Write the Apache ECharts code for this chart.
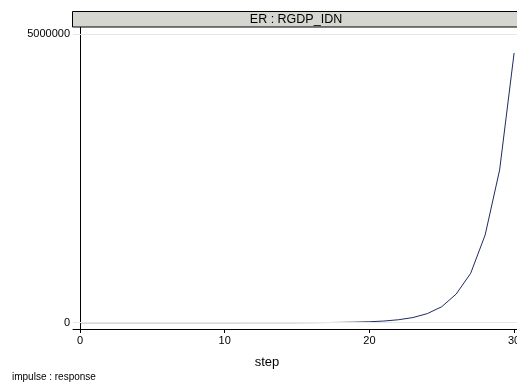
<!DOCTYPE html>
<html>
<head>
<meta charset="utf-8">
<script src="https://cdn.jsdelivr.net/npm/echarts@6/dist/echarts.min.js"></script>
<style>
html,body{margin:0;padding:0;background:#ffffff;}
#chart{width:517px;height:385px;}
</style>
</head>
<body>
<div id="chart"></div>
<script>
var steps = [0,1,2,3,4,5,6,7,8,9,10,11,12,13,14,15,16,17,18,19,20,21,22,23,24,25,26,27,28,29,30];
var response = [0,120,180,220,260,300,340,380,420,470,520,580,650,740,860,1000,1700,3000,5300,9400,16500,29000,51000,89000,157000,277000,497000,856000,1520000,2646000,4670000];
var xTicks = [0,10,20,30];
var yTicks = [0,5000000];
var panelTitle = "ER : RGDP_IDN";
var xName = "step";
var footNote = "impulse : response";

var chart = echarts.init(document.getElementById('chart'), null, {renderer:'canvas'});
var FONT = 'Liberation Sans, Arial, sans-serif';
var data = steps.map(function(s,i){return [s, response[i]];});

chart.setOption({
  backgroundColor:'#ffffff',
  animation:false,
  grid:{left:73, top:27, right:0, bottom:56, containLabel:false, outerBoundsMode:'none'},
  xAxis:{
    type:'value', min:-0.48, max:30.2,
    axisLine:{show:true, onZero:false, lineStyle:{color:'#000', width:1}},
    axisTick:{show:true, length:4, customValues:xTicks, lineStyle:{color:'#000'}},
    axisLabel:{show:true, customValues:xTicks, color:'#000', fontFamily:FONT, fontSize:11, margin:6, showMaxLabel:true,
      formatter:function(v){return String(v);}},
    splitLine:{show:false}
  },
  yAxis:{
    type:'value', min:-109000, max:5121000,
    axisLine:{show:true, lineStyle:{color:'#000', width:1}},
    axisTick:{show:true, length:4, customValues:yTicks, lineStyle:{color:'#000'}},
    axisLabel:{show:true, customValues:yTicks, color:'#000', fontFamily:FONT, fontSize:11, margin:3,
      formatter:function(v){return String(v);}},
    splitLine:{show:false}
  },
  series:[{
    type:'line', data:data, showSymbol:false, symbol:'none',
    lineStyle:{color:'#1e2d5e', width:1},
    markLine:{
      silent:true, symbol:['none','none'], label:{show:false},
      lineStyle:{color:'#e6e6e6', type:'solid', width:1},
      data: yTicks.map(function(v){return {yAxis:v};})
    },
    z:3
  }],
  graphic:[
    {type:'rect', shape:{x:72.5, y:11.5, width:460, height:15.5}, style:{fill:'#d6d6d0', stroke:'#000', lineWidth:1}, z:10},
    {type:'text', x:296, y:19.5, style:{text:panelTitle, font:'12.5px '+FONT, fill:'#000', textAlign:'center', textVerticalAlign:'middle'}, z:11},
    {type:'text', x:267, y:362, style:{text:xName, font:'13px '+FONT, fill:'#000', textAlign:'center', textVerticalAlign:'middle'}, z:11},
    {type:'text', x:12, y:377, style:{text:footNote, font:'10px '+FONT, fill:'#000', textAlign:'left', textVerticalAlign:'middle'}, z:11}
  ]
});
</script>
</body>
</html>
